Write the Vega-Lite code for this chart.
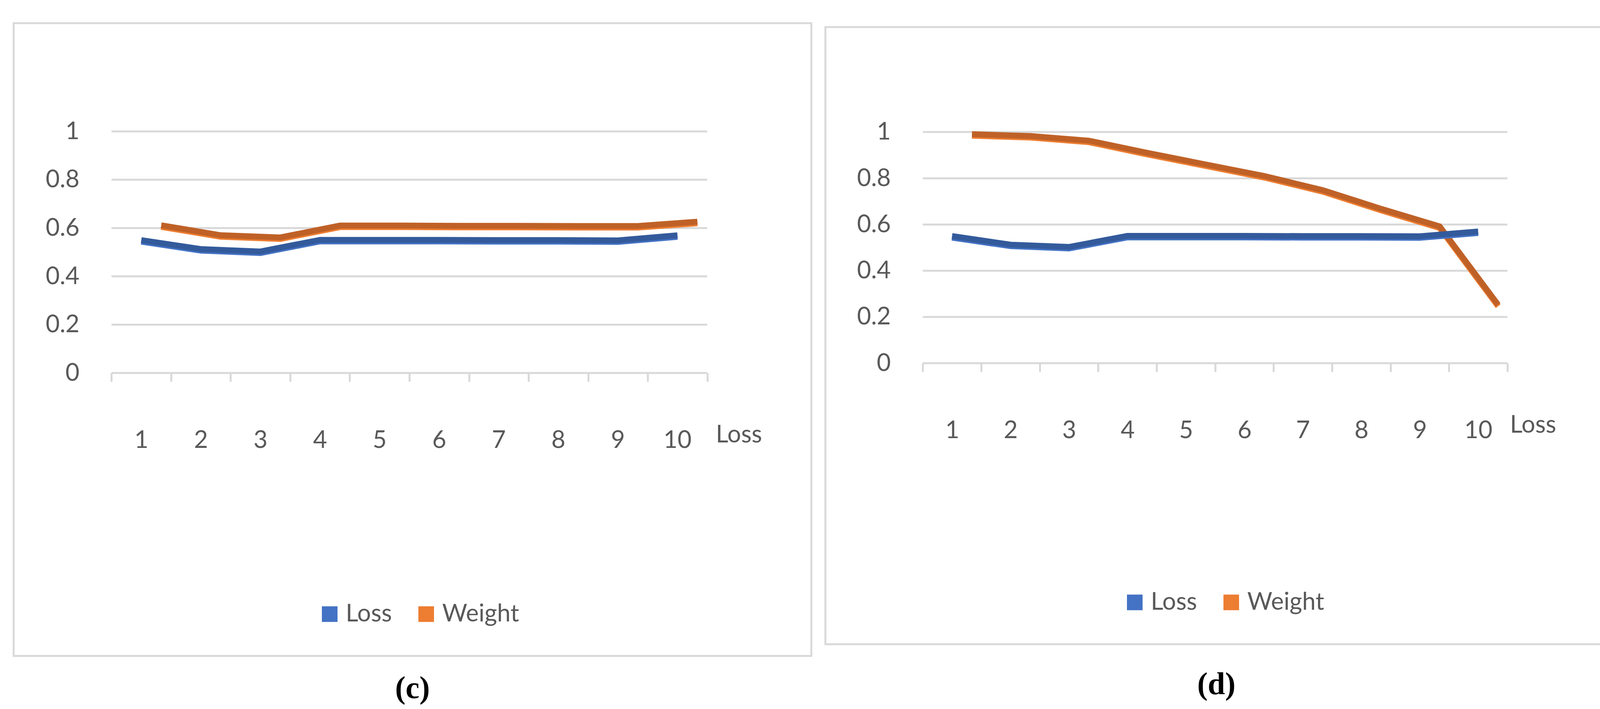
{
  "$schema": "https://vega.github.io/schema/vega-lite/v6.json",
  "description": "Two Excel-style line charts, (c) and (d): Loss and Weight over steps 1-10",
  "background": "white",
  "padding": {"left": 32, "top": 56, "right": 0, "bottom": 0},
  "spacing": 30,
  "center": true,
  "resolve": {"scale": {"color": "independent"}, "legend": {"color": "independent"}},
  "config": {
    "font": "Lato",
    "view": {"stroke": "#D9D9D9", "strokeWidth": 5}
  },
  "datasets": {
    "grid": [
      {"value": 0}, {"value": 0.2}, {"value": 0.4}, {"value": 0.6}, {"value": 0.8}, {"value": 1}
    ],
    "panelC": [
      {"step": 1, "series": "Loss", "value": 0.55},
      {"step": 2, "series": "Loss", "value": 0.513},
      {"step": 3, "series": "Loss", "value": 0.503},
      {"step": 4, "series": "Loss", "value": 0.551},
      {"step": 5, "series": "Loss", "value": 0.551},
      {"step": 6, "series": "Loss", "value": 0.551},
      {"step": 7, "series": "Loss", "value": 0.55},
      {"step": 8, "series": "Loss", "value": 0.55},
      {"step": 9, "series": "Loss", "value": 0.549},
      {"step": 10, "series": "Loss", "value": 0.57},
      {"step": 1, "series": "Weight", "value": 0.553},
      {"step": 2, "series": "Weight", "value": 0.512},
      {"step": 3, "series": "Weight", "value": 0.503},
      {"step": 4, "series": "Weight", "value": 0.552},
      {"step": 5, "series": "Weight", "value": 0.552},
      {"step": 6, "series": "Weight", "value": 0.551},
      {"step": 7, "series": "Weight", "value": 0.551},
      {"step": 8, "series": "Weight", "value": 0.55},
      {"step": 9, "series": "Weight", "value": 0.55},
      {"step": 10, "series": "Weight", "value": 0.568}
    ],
    "panelD": [
      {"step": 1, "series": "Loss", "value": 0.55},
      {"step": 2, "series": "Loss", "value": 0.513},
      {"step": 3, "series": "Loss", "value": 0.503},
      {"step": 4, "series": "Loss", "value": 0.551},
      {"step": 5, "series": "Loss", "value": 0.551},
      {"step": 6, "series": "Loss", "value": 0.551},
      {"step": 7, "series": "Loss", "value": 0.55},
      {"step": 8, "series": "Loss", "value": 0.55},
      {"step": 9, "series": "Loss", "value": 0.549},
      {"step": 10, "series": "Loss", "value": 0.57},
      {"step": 1, "series": "Weight", "value": 0.93},
      {"step": 2, "series": "Weight", "value": 0.922},
      {"step": 3, "series": "Weight", "value": 0.902},
      {"step": 4, "series": "Weight", "value": 0.849},
      {"step": 5, "series": "Weight", "value": 0.799},
      {"step": 6, "series": "Weight", "value": 0.749},
      {"step": 7, "series": "Weight", "value": 0.688},
      {"step": 8, "series": "Weight", "value": 0.607},
      {"step": 9, "series": "Weight", "value": 0.531},
      {"step": 10, "series": "Weight", "value": 0.192}
    ]
  },
  "hconcat": [
    {
      "width": 2042,
      "height": 1619,
      "title": {"text": "(c)", "orient": "bottom", "anchor": "middle", "font": "Liberation Serif", "fontSize": 80, "fontWeight": "bold", "color": "black", "offset": 45, "baseline": "top"},
      "encoding": {
        "y": {"field": "value", "type": "quantitative",
          "scale": {"domain": [-1.1715, 1.4482], "nice": false, "zero": false},
          "axis": {"values": [0, 0.2, 0.4, 0.6, 0.8, 1], "labelExpr": "'' + datum.value", "offset": -168, "ticks": false, "tickSize": 0, "labelPadding": 0, "domain": false, "grid": false, "title": null, "labelFont": "Lato", "labelFontSize": 62, "labelColor": "#595959", "labelAlign": "right", "labelBaseline": "middle",
            "encode": {"labels": {"update": {"align": {"value": "right"}}}}}}
      },
      "layer": [
        {
          "data": {"name": "grid"},
          "mark": {"type": "rule", "color": "#D9D9D9", "strokeWidth": 5},
          "encoding": {
            "x": {"datum": 0.5, "type": "quantitative", "scale": {"domain": [-1.142, 12.247], "nice": false, "zero": false}},
            "x2": {"datum": 10.5}
          }
        },
        {
          "data": {"name": "panelC"},
          "encoding": {
            "x": {"field": "step", "type": "quantitative",
              "scale": {"domain": [-1.142, 12.247], "nice": false, "zero": false},
              "axis": {"values": [0.5, 1.5, 2.5, 3.5, 4.5, 5.5, 6.5, 7.5, 8.5, 9.5, 10.5], "labelExpr": "datum.value < 10 ? '' + (datum.value + 0.5) : ''", "labelOffset": 76, "offset": -724, "domain": false, "grid": false, "ticks": true, "tickColor": "#D9D9D9", "tickWidth": 5, "tickSize": 22, "labelPadding": 120, "labelFlush": false, "labelOverlap": false, "labelFont": "Lato", "labelFontSize": 62, "labelColor": "#595959", "labelAlign": "center", "labelBaseline": "top",
                "title": "Loss", "titleX": 1797, "titleY": 158, "titleAlign": "left", "titleBaseline": "middle", "titleAngle": 0, "titleFont": "Lato", "titleFontSize": 62, "titleFontWeight": "normal", "titleColor": "#595959"}}
          },
          "layer": [
            {
              "transform": [{"filter": "datum.series === 'Weight'"}],
              "mark": {"type": "line", "strokeWidth": 15, "xOffset": 51, "yOffset": -32, "strokeJoin": "miter"},
              "encoding": {
                "color": {"field": "series", "type": "nominal", "scale": {"domain": ["Loss", "Weight"], "range": ["#4472C4", "#ED7D31"]},
                  "legend": {"title": null, "orient": "none", "legendX": 778, "legendY": 1481, "direction": "horizontal", "symbolType": "square", "symbolSize": 1600, "symbolStrokeWidth": 0, "labelFont": "Lato", "labelFontSize": 62, "labelColor": "#595959", "labelOffset": 10, "labelLimit": 0, "columnPadding": 56, "padding": 0, "offset": 0,
                    "encode": {"symbols": {"update": {"fill": {"signal": "datum.value === 'Loss' ? '#4472C4' : '#ED7D31'"}, "fillOpacity": {"value": 1}, "strokeWidth": {"value": 0}}}}}}
              }
            },
            {
              "transform": [{"filter": "datum.series === 'Weight'"}],
              "mark": {"type": "line", "color": "#BF6127", "strokeWidth": 15, "xOffset": 51, "yOffset": -36, "strokeJoin": "miter"},
              "encoding": {}
            },
            {
              "transform": [{"filter": "datum.series === 'Loss'"}],
              "mark": {"type": "line", "strokeWidth": 15, "yOffset": 4, "strokeJoin": "miter"},
              "encoding": {
                "color": {"field": "series", "type": "nominal", "scale": {"domain": ["Loss", "Weight"], "range": ["#4472C4", "#ED7D31"]}}
              }
            },
            {
              "transform": [{"filter": "datum.series === 'Loss'"}],
              "mark": {"type": "line", "color": "#335A9B", "strokeWidth": 15, "strokeJoin": "miter"},
              "encoding": {}
            }
          ]
        }
      ]
    },
    {
      "width": 2002,
      "height": 1579,
      "title": {"text": "(d)", "orient": "bottom", "anchor": "middle", "font": "Liberation Serif", "fontSize": 80, "fontWeight": "bold", "color": "black", "offset": 65, "baseline": "top"},
      "encoding": {
        "y": {"field": "value", "type": "quantitative",
          "scale": {"domain": [-1.2157, 1.4542], "nice": false, "zero": false},
          "axis": {"values": [0, 0.2, 0.4, 0.6, 0.8, 1], "labelExpr": "'' + datum.value", "offset": -167, "ticks": false, "tickSize": 0, "labelPadding": 0, "domain": false, "grid": false, "title": null, "labelFont": "Lato", "labelFontSize": 62, "labelColor": "#595959", "labelAlign": "right", "labelBaseline": "middle",
            "encode": {"labels": {"update": {"align": {"value": "right"}}}}}}
      },
      "layer": [
        {
          "data": {"name": "grid"},
          "mark": {"type": "rule", "color": "#D9D9D9", "strokeWidth": 5},
          "encoding": {
            "x": {"datum": 0.5, "type": "quantitative", "scale": {"domain": [-1.1667, 12.211], "nice": false, "zero": false}},
            "x2": {"datum": 10.5}
          }
        },
        {
          "data": {"name": "panelD"},
          "encoding": {
            "x": {"field": "step", "type": "quantitative",
              "scale": {"domain": [-1.1667, 12.211], "nice": false, "zero": false},
              "axis": {"values": [0.5, 1.5, 2.5, 3.5, 4.5, 5.5, 6.5, 7.5, 8.5, 9.5, 10.5], "labelExpr": "datum.value < 10 ? '' + (datum.value + 0.5) : ''", "labelOffset": 75, "offset": -719, "domain": false, "grid": false, "ticks": true, "tickColor": "#D9D9D9", "tickWidth": 5, "tickSize": 22, "labelPadding": 120, "labelFlush": false, "labelOverlap": false, "labelFont": "Lato", "labelFontSize": 62, "labelColor": "#595959", "labelAlign": "center", "labelBaseline": "top",
                "title": "Loss", "titleX": 1752, "titleY": 158, "titleAlign": "left", "titleBaseline": "middle", "titleAngle": 0, "titleFont": "Lato", "titleFontSize": 62, "titleFontWeight": "normal", "titleColor": "#595959"}}
          },
          "layer": [
            {
              "transform": [{"filter": "datum.series === 'Weight'"}],
              "mark": {"type": "line", "strokeWidth": 15, "xOffset": 51, "yOffset": -32, "strokeJoin": "miter"},
              "encoding": {
                "color": {"field": "series", "type": "nominal", "scale": {"domain": ["Loss", "Weight"], "range": ["#4472C4", "#ED7D31"]},
                  "legend": {"title": null, "orient": "none", "legendX": 761, "legendY": 1441, "direction": "horizontal", "symbolType": "square", "symbolSize": 1600, "symbolStrokeWidth": 0, "labelFont": "Lato", "labelFontSize": 62, "labelColor": "#595959", "labelOffset": 10, "labelLimit": 0, "columnPadding": 56, "padding": 0, "offset": 0,
                    "encode": {"symbols": {"update": {"fill": {"signal": "datum.value === 'Loss' ? '#4472C4' : '#ED7D31'"}, "fillOpacity": {"value": 1}, "strokeWidth": {"value": 0}}}}}}
              }
            },
            {
              "transform": [{"filter": "datum.series === 'Weight'"}],
              "mark": {"type": "line", "color": "#BF6127", "strokeWidth": 15, "xOffset": 51, "yOffset": -36, "strokeJoin": "miter"},
              "encoding": {}
            },
            {
              "transform": [{"filter": "datum.series === 'Loss'"}],
              "mark": {"type": "line", "strokeWidth": 15, "yOffset": 4, "strokeJoin": "miter"},
              "encoding": {
                "color": {"field": "series", "type": "nominal", "scale": {"domain": ["Loss", "Weight"], "range": ["#4472C4", "#ED7D31"]}}
              }
            },
            {
              "transform": [{"filter": "datum.series === 'Loss'"}],
              "mark": {"type": "line", "color": "#335A9B", "strokeWidth": 15, "strokeJoin": "miter"},
              "encoding": {}
            }
          ]
        }
      ]
    }
  ]
}
